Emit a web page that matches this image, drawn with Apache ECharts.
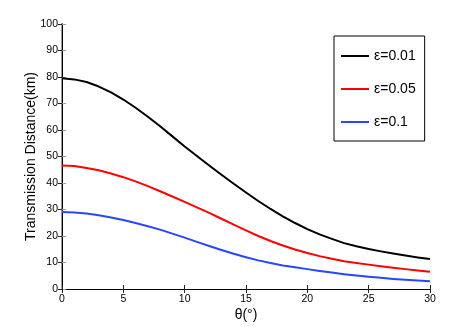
<!DOCTYPE html>
<html>
<head>
<meta charset="utf-8">
<script src="https://cdn.jsdelivr.net/npm/echarts@6/dist/echarts.min.js"></script>
<style>
  html, body { margin: 0; padding: 0; background: #fff; }
  #chart { width: 474px; height: 327px; }
</style>
</head>
<body>
<div id="chart"></div>
<script>
// angle theta in degrees
const THETA = [0, 1, 2, 3, 4, 5, 6, 7, 8, 9, 10, 11, 12, 13, 14, 15,
  16, 17, 18, 19, 20, 21, 22, 23, 24, 25, 26, 27, 28, 29, 30];
// transmission distance (km) for each epsilon
const DIST_001 = [79.5, 79.1, 78.1, 76.4, 74.2, 71.5, 68.4, 65.0, 61.4, 57.6, 53.8,
  50.2, 46.6, 43.1, 39.7, 36.4, 33.2, 30.2, 27.4, 24.9, 22.6, 20.6, 18.9, 17.3,
  16.1, 15.1, 14.2, 13.4, 12.6, 11.9, 11.3];
const DIST_005 = [46.6, 46.4, 45.7, 44.8, 43.6, 42.2, 40.6, 38.8, 36.9, 34.9, 32.9,
  30.8, 28.7, 26.5, 24.3, 22.1, 20.0, 18.1, 16.4, 14.9, 13.6, 12.4, 11.4, 10.5,
  9.8, 9.2, 8.6, 8.0, 7.5, 7.0, 6.5];
const DIST_01 = [29.1, 28.9, 28.5, 27.8, 27.0, 26.0, 24.9, 23.7, 22.4, 20.9, 19.4,
  17.8, 16.2, 14.7, 13.3, 12.0, 10.8, 9.8, 8.9, 8.2, 7.5, 6.8, 6.2, 5.6,
  5.1, 4.6, 4.2, 3.8, 3.5, 3.2, 2.9];
const SERIES_NAMES = ['ε=0.01', 'ε=0.05', 'ε=0.1'];
const SERIES_COLORS = ['#000000', '#ff0000', '#2846ff'];

const FONT = 'Liberation Sans, Arial, sans-serif';

function pairs(ys) {
  return THETA.map((t, i) => [t, ys[i]]);
}

const chart = echarts.init(document.getElementById('chart'), null, {renderer: 'canvas'});

const seriesValues = [DIST_001, DIST_005, DIST_01];
let series_data = [];
for (let i = 0; i < SERIES_NAMES.length; i++) {
  series_data.push({
    type: 'line',
    name: SERIES_NAMES[i],
    data: pairs(seriesValues[i]),
    symbol: 'none',
    smooth: false,
    lineStyle: {color: SERIES_COLORS[i], width: 2, join: 'round'},
    itemStyle: {color: SERIES_COLORS[i]},
    xAxisIndex: 0,
    yAxisIndex: 0
  });
}

const tickInside = {inside: true, length: 4, lineStyle: {color: '#222', width: 1}};

const options = {
  animation: false,
  backgroundColor: '#fff',
  grid: {left: 62, right: 44, top: 24, bottom: 37, containLabel: false},
  legend: {
    orient: 'vertical',
    left: 334,
    top: 36,
    padding: [13, 9, 12, 6],
    backgroundColor: '#fff',
    borderColor: '#000',
    borderWidth: 1,
    borderRadius: 0,
    itemWidth: 28,
    itemHeight: 14,
    itemGap: 19,
    itemStyle: {opacity: 0},
    textStyle: {fontFamily: FONT, fontSize: 14, color: '#000'},
    data: SERIES_NAMES
  },
  xAxis: [
    {
      type: 'value', min: 0, max: 30, interval: 5, position: 'bottom',
      name: 'θ(°)', nameLocation: 'middle', nameGap: 19, nameMoveOverlap: false,
      nameTextStyle: {fontFamily: FONT, fontSize: 14, color: '#000'},
      axisLine: {show: true, lineStyle: {color: '#000', width: 1}},
      axisTick: tickInside,
      axisLabel: {fontFamily: FONT, fontSize: 10.5, color: '#000', margin: 5},
      splitLine: {show: false}
    },
    {
      type: 'value', min: 0, max: 30, interval: 5, position: 'top',
      axisLine: {show: true, lineStyle: {color: '#000', width: 1}},
      axisTick: tickInside,
      axisLabel: {show: false},
      splitLine: {show: false}
    }
  ],
  yAxis: [
    {
      type: 'value', min: 0, max: 100, interval: 10, position: 'left',
      name: 'Transmission Distance(km)', nameLocation: 'middle', nameGap: 24, nameMoveOverlap: false,
      nameTextStyle: {fontFamily: FONT, fontSize: 14, color: '#000'},
      axisLine: {show: true, lineStyle: {color: '#999', width: 2}},
      axisTick: {inside: true, length: 4, lineStyle: {color: '#999', width: 1}},
      axisLabel: {fontFamily: FONT, fontSize: 10.5, color: '#000', margin: 4},
      splitLine: {show: false}
    },
    {
      type: 'value', min: 0, max: 100, interval: 10, position: 'right',
      axisLine: {show: true, lineStyle: {color: '#000', width: 1}},
      axisTick: tickInside,
      axisLabel: {show: false},
      splitLine: {show: false}
    }
  ],
  series: series_data
};

chart.setOption(options);
</script>
</body>
</html>
